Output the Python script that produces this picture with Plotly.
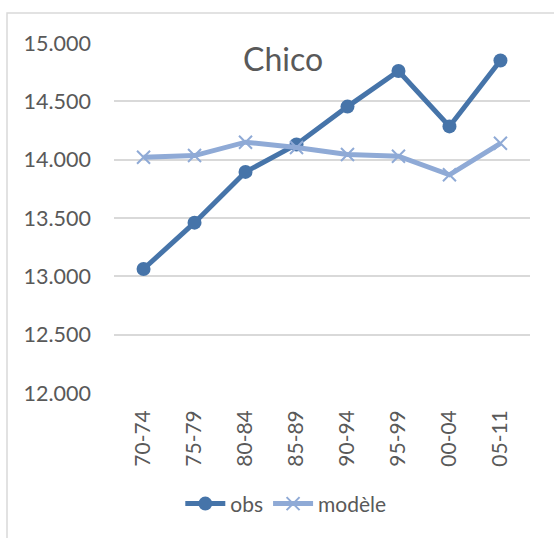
import plotly.graph_objects as go

# Five-year periods and series values
periods = ["70-74", "75-79", "80-84", "85-89", "90-94", "95-99", "00-04", "05-11"]
obs = [13063, 13460, 13895, 14130, 14455, 14760, 14285, 14850]
modele = [14020, 14035, 14150, 14105, 14045, 14030, 13870, 14140]

y_ticks = [12000, 12500, 13000, 13500, 14000, 14500, 15000]

FONT = "Lato"
TEXT = "#595959"
GRID = "#d9d9d9"

fig = go.Figure()
fig.add_trace(go.Scatter(
    x=periods, y=obs, name="obs", mode="lines+markers",
    line=dict(color="#4674a9", width=5),
    marker=dict(symbol="circle", size=14, color="#4674a9"),
))
fig.add_trace(go.Scatter(
    x=periods, y=modele, name="modèle", mode="lines+markers",
    line=dict(color="#8faad6", width=5),
    marker=dict(symbol="x-thin", size=13, color="#8faad6",
                line=dict(color="#8faad6", width=2)),
))

fig.update_layout(
    width=554, height=538,
    margin=dict(l=114, r=24, t=43, b=145),
    paper_bgcolor="white", plot_bgcolor="white",
    separators=",.",
    font=dict(family=FONT, size=21, color=TEXT),
    showlegend=True,
    legend=dict(orientation="h", x=0.413, xanchor="center", y=-0.317, yanchor="middle",
                font=dict(size=21, color=TEXT), itemwidth=40),
    xaxis=dict(
        type="category", showgrid=False, showline=False, zeroline=False,
        tickangle=-90, ticks="", ticklabelstandoff=12,
        tickfont=dict(size=21, color=TEXT),
    ),
    yaxis=dict(
        range=[12000, 15000], tickvals=y_ticks, tickformat=",d",
        showgrid=True, gridcolor=GRID, gridwidth=1.5, zeroline=False,
        showline=False, ticks="", ticklabelstandoff=22,
        tickfont=dict(size=21.5, color=TEXT),
    ),
    annotations=[dict(
        text="Chico", xref="paper", yref="paper", x=0.406, y=0.957,
        xanchor="center", yanchor="middle", showarrow=False,
        font=dict(family=FONT, size=32, color=TEXT),
    )],
    shapes=[dict(
        type="rect", xref="paper", yref="paper",
        x0=-0.2572, x1=1.2, y0=-0.6, y1=1.0857,
        line=dict(color=GRID, width=1.5), layer="below",
    )],
)

fig.write_html("out.html")
